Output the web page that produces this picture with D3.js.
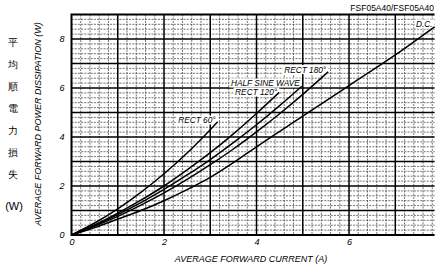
<!DOCTYPE html>
<html>
<head>
<meta charset="utf-8">
<script src="https://cdn.jsdelivr.net/npm/d3@7"></script>
<style>
  body { margin: 0; background: #fff; }
  svg { display: block; }
  text { font-family: "Liberation Sans", Arial, sans-serif; }
</style>
</head>
<body>
<div id="chart"></div>
<script>
// values
const seriesNames = ["RECT 60°", "RECT 120°", "HALF SINE WAVE", "RECT 180°", "D.C."];
const rect60I  = [0, 0.5, 1, 1.5, 2, 2.5, 3, 3.16];
const rect60P  = [0, 0.49, 1.07, 1.74, 2.5, 3.35, 4.3, 4.62];
const rect120I = [0, 0.5, 1, 1.5, 2, 2.5, 3, 3.5, 4, 4.49];
const rect120P = [0, 0.41, 0.89, 1.42, 2.0, 2.66, 3.36, 4.13, 4.96, 5.82];
const halfSineI = [0, 0.5, 1, 1.5, 2, 2.5, 3, 3.5, 4, 4.5, 4.98];
const halfSineP = [0, 0.39, 0.83, 1.32, 1.86, 2.45, 3.08, 3.77, 4.5, 5.28, 6.07];
const rect180I = [0, 0.5, 1, 1.5, 2, 2.5, 3, 3.5, 4, 4.5, 5, 5.55];
const rect180P = [0, 0.36, 0.76, 1.22, 1.72, 2.27, 2.87, 3.51, 4.21, 4.95, 5.74, 6.66];
const dcI = [0, 0.5, 1, 1.5, 2, 2.5, 3, 3.5, 4, 5, 6, 7, 7.85];
const dcP = [0, 0.3, 0.65, 1.0, 1.4, 1.85, 2.35, 2.95, 3.6, 4.85, 6.1, 7.35, 8.5];
const xTicks = [0, 2, 4, 6];
const yTicks = [0, 2, 4, 6, 8];
const jpLabel = ["平", "均", "順", "電", "力", "損", "失"];

const width = 435;
const height = 268;
const pLeft = 71.5, pRight = 434.6, pTop = 14.5, pBottom = 235;

const x = d3.scaleLinear().domain([0, 7.85]).range([pLeft, pRight]);
const y = d3.scaleLinear().domain([0, 9]).range([pBottom, pTop]);

const svg = d3.select("#chart").append("svg")
  .attr("width", width)
  .attr("height", height);

// minor grid (dashed, every 0.2)
const minorX = d3.range(0, 7.85, 0.2).filter(v => Math.abs(v - Math.round(v)) > 0.01);
const minorY = d3.range(0, 9, 0.2).filter(v => Math.abs(v - Math.round(v)) > 0.01);
const grid = svg.append("g");
grid.selectAll(".mx").data(minorX).join("line")
  .attr("x1", d => x(d)).attr("x2", d => x(d))
  .attr("y1", pTop).attr("y2", pBottom)
  .attr("stroke", "#333").attr("stroke-width", 0.7).attr("stroke-dasharray", "2,1.2");
grid.selectAll(".my").data(minorY).join("line")
  .attr("y1", d => y(d)).attr("y2", d => y(d))
  .attr("x1", pLeft).attr("x2", pRight)
  .attr("stroke", "#333").attr("stroke-width", 0.7).attr("stroke-dasharray", "2,1.2");

// major grid every 1
grid.selectAll(".Mx").data(d3.range(1, 8)).join("line")
  .attr("x1", d => x(d)).attr("x2", d => x(d))
  .attr("y1", pTop).attr("y2", pBottom)
  .attr("stroke", "#000").attr("stroke-width", 1.5);
grid.selectAll(".My").data(d3.range(1, 9)).join("line")
  .attr("y1", d => y(d)).attr("y2", d => y(d))
  .attr("x1", pLeft).attr("x2", pRight)
  .attr("stroke", "#000").attr("stroke-width", 1.5);

// frame
svg.append("path")
  .attr("d", `M${pRight},${pTop}H${pLeft}V${pBottom}H${pRight}`)
  .attr("fill", "none").attr("stroke", "#000").attr("stroke-width", 2);

// curves
const series = [
  [rect60I, rect60P], [rect120I, rect120P], [halfSineI, halfSineP],
  [rect180I, rect180P], [dcI, dcP]
].map(([xs, ps], i) => ({ name: seriesNames[i], pts: xs.map((v, j) => [v, ps[j]]) }));

const line = d3.line().x(d => x(d[0])).y(d => y(d[1])).curve(d3.curveMonotoneX);

// labels with white boxes at line ends
const labelDy = [-1, 0.5, -2.5, -1.5, -2];
const lab = svg.append("g");
series.forEach((s, i) => {
  const last = s.pts[s.pts.length - 1];
  const t = lab.append("text")
    .attr("x", x(last[0]) - 2)
    .attr("y", y(last[1]) + labelDy[i])
    .attr("text-anchor", "end")
    .attr("dominant-baseline", "middle")
    .attr("font-style", "italic")
    .attr("font-size", 8.3)
    .text(s.name);
  const b = t.node().getBBox();
  lab.insert("rect", () => t.node())
    .attr("x", b.x - 1.5).attr("y", b.y + 0.5)
    .attr("width", b.width + 3).attr("height", b.height - 1)
    .attr("fill", "#fff");
});

svg.append("g").selectAll("path").data(series).join("path")
  .attr("d", d => line(d.pts))
  .attr("fill", "none").attr("stroke", "#000").attr("stroke-width", 1.5);

// axes (labels only)
const xAxis = svg.append("g").attr("transform", `translate(0,${pBottom})`)
  .call(d3.axisBottom(x).tickValues(xTicks).tickSize(0).tickPadding(4).tickFormat(d3.format("d")));
const yAxis = svg.append("g").attr("transform", `translate(${pLeft},0)`)
  .call(d3.axisLeft(y).tickValues(yTicks).tickSize(0).tickPadding(7).tickFormat(d3.format("d")));
[xAxis, yAxis].forEach(a => {
  a.select(".domain").remove();
  a.selectAll("text")
    .attr("font-family", "'Liberation Sans', Arial, sans-serif")
    .attr("font-style", "italic").attr("font-size", 9).attr("fill", "#000");
});

svg.append("text")
  .attr("x", 251).attr("y", 262)
  .attr("text-anchor", "middle")
  .attr("font-style", "italic").attr("font-size", 9)
  .text("AVERAGE FORWARD CURRENT (A)");

svg.append("text")
  .attr("transform", "translate(41,124) rotate(-90)")
  .attr("text-anchor", "middle")
  .attr("font-style", "italic").attr("font-size", 9)
  .text("AVERAGE FORWARD POWER DISSIPATION (W)");

svg.append("text")
  .attr("x", 434).attr("y", 11)
  .attr("text-anchor", "end")
  .attr("font-size", 8.5)
  .text("FSF05A40/FSF05A40");

// vertical Japanese label
svg.append("g").selectAll("text").data(jpLabel).join("text")
  .attr("x", 13)
  .attr("y", (d, i) => 46 + i * 22)
  .attr("text-anchor", "middle")
  .attr("font-family", "'Noto Sans CJK JP', sans-serif")
  .attr("font-size", 10)
  .text(d => d);

svg.append("text")
  .attr("x", 14).attr("y", 210)
  .attr("text-anchor", "middle")
  .attr("font-size", 11)
  .text("(W)");
</script>
</body>
</html>
